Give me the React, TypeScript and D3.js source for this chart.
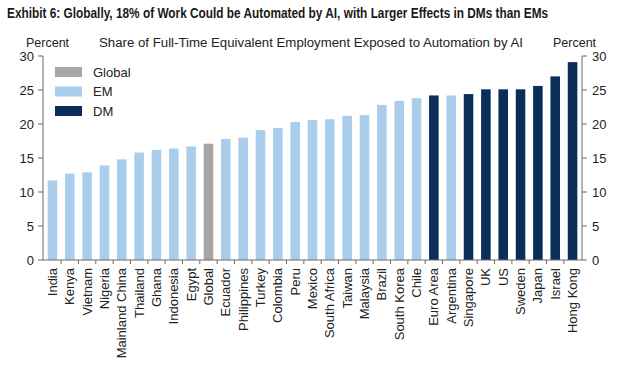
import React, { useLayoutEffect, useRef, useState } from "react";
import * as d3 from "d3";

const categories = ["India","Kenya","Vietnam","Nigeria","Mainland China","Thailand","Ghana","Indonesia","Egypt","Global","Ecuador","Philippines","Turkey","Colombia","Peru","Mexico","South Africa","Taiwan","Malaysia","Brazil","South Korea","Chile","Euro Area","Argentina","Singapore","UK","US","Sweden","Japan","Israel","Hong Kong"];
const values = [11.7,12.7,12.9,13.9,14.8,15.8,16.2,16.4,16.7,17.1,17.8,18.0,19.1,19.4,20.3,20.6,20.7,21.2,21.3,22.8,23.4,23.8,24.2,24.2,24.4,25.1,25.1,25.1,25.6,27.0,29.1];
const groups = ["EM","EM","EM","EM","EM","EM","EM","EM","EM","Global","EM","EM","EM","EM","EM","EM","EM","EM","EM","EM","EM","EM","DM","EM","DM","DM","DM","DM","DM","DM","DM"];
const legendItems = ["Global","EM","DM"];
const yTicks = [0,5,10,15,20,25,30];

const colors: Record<string,string> = { Global: "#a6a6a6", EM: "#a9cdeb", DM: "#0b2d5a" };

export default function App() {
  const W = 630, H = 376;
  const left = 43, right = 582, top = 56, bottom = 260;
  const x = d3.scaleBand<string>().domain(categories).range([left, right]).paddingInner(0.45).paddingOuter(0.27);
  const y = d3.scaleLinear().domain([0, 30]).range([bottom, top]);
  const bw = x.bandwidth();
  const step = x.step();
  const font = "'Liberation Sans', Arial, sans-serif";
  const axisColor = "#6b6b6b";
  const titleRef = useRef<SVGTextElement>(null);
  const [titleScale, setTitleScale] = useState(0.8);
  useLayoutEffect(() => {
    if (titleRef.current) {
      const w = titleRef.current.getComputedTextLength();
      if (w > 0) setTitleScale(541 / w);
    }
  }, []);
  return (
    <svg width={W} height={H} style={{ position: "absolute", left: 0, top: 0, background: "#fff" }} fontFamily={font}>
      <g transform={`translate(7,18) scale(${titleScale},1)`}>
        <text ref={titleRef} x={0} y={0} fontFamily="'Liberation Sans Narrow', 'Arial Narrow', 'Liberation Sans', sans-serif" fontWeight="bold" fontSize={14} fill="#1a1a1a">Exhibit 6: Globally, 18% of Work Could be Automated by AI, with Larger Effects in DMs than EMs</text>
      </g>
      <text x={26} y={47} fontSize={12.5} fill="#222">Percent</text>
      <text x={99} y={47} fontSize={12.5} fill="#222" textLength={424} lengthAdjust="spacingAndGlyphs">Share of Full-Time Equivalent Employment Exposed to Automation by AI</text>
      <text x={553} y={47} fontSize={12.5} fill="#222">Percent</text>

      {categories.map((c, i) => (
        <rect key={c} x={x(c)} y={y(values[i])} width={bw} height={y(0) - y(values[i])} fill={colors[groups[i]]} />
      ))}

      <line x1={left} x2={left} y1={top} y2={bottom} stroke={axisColor} />
      <line x1={right} x2={right} y1={top} y2={bottom} stroke={axisColor} />
      <line x1={left} x2={right} y1={bottom} y2={bottom} stroke={axisColor} />
      {yTicks.map(t => (
        <g key={t}>
          <line x1={left - 5} x2={left} y1={y(t)} y2={y(t)} stroke={axisColor} />
          <line x1={right} x2={right + 5} y1={y(t)} y2={y(t)} stroke={axisColor} />
          <text x={34} y={y(t)} dy="0.35em" textAnchor="end" fontSize={13} fill="#222">{t}</text>
          <text x={592} y={y(t)} dy="0.35em" textAnchor="start" fontSize={13} fill="#222">{t}</text>
        </g>
      ))}
      {categories.slice(0, -1).map(c => {
        const tx = (x(c) as number) + bw + (step - bw) / 2;
        return <line key={"t" + c} x1={tx} x2={tx} y1={bottom} y2={bottom + 4} stroke={axisColor} />;
      })}
      {categories.map(c => {
        const cx = (x(c) as number) + bw / 2;
        return (
          <text key={"l" + c} transform={`translate(${cx},${bottom + 8}) rotate(-90)`} textAnchor="end" dy="0.35em" fontSize={13} fill="#222">{c}</text>
        );
      })}

      {legendItems.map((g, i) => (
        <g key={g} transform={`translate(55,${67 + i * 19.5})`}>
          <rect x={0} y={0} width={27} height={10} fill={colors[g]} />
          <text x={38} y={5} dy="0.35em" fontSize={13} fill="#222">{g}</text>
        </g>
      ))}
    </svg>
  );
}
